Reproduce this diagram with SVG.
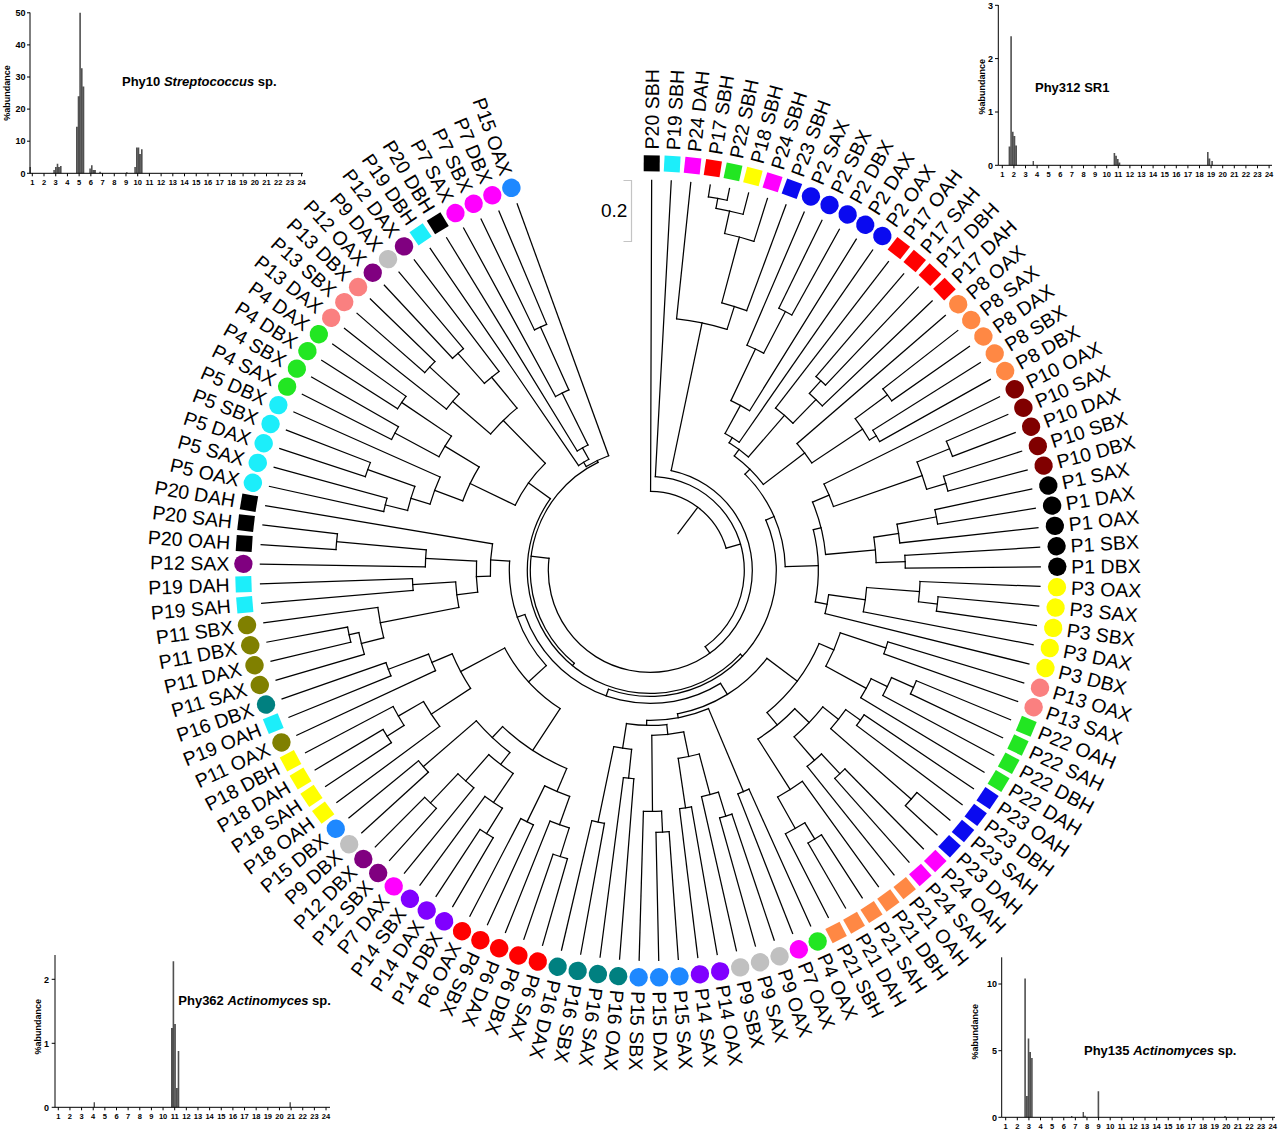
<svg xmlns="http://www.w3.org/2000/svg" width="1280" height="1132" viewBox="0 0 1280 1132">
<style>
text{font-family:"Liberation Sans",Arial,sans-serif;fill:#000}
.lab{font-size:19.5px;dominant-baseline:central}
.l{text-anchor:end}
.tr{fill:none;stroke:#000;stroke-width:1.25;stroke-linecap:square}
.k{fill:#000}.cy{fill:#1ceefa}.mg{fill:#ff00ff}.rd{fill:#ff0000}.gr{fill:#22e622}.ye{fill:#ffff00}.bl{fill:#0a0af0}.or{fill:#ff8844}.dr{fill:#800000}.sa{fill:#fa8080}.ol{fill:#808000}.te{fill:#008080}.gy{fill:#c0c0c0}.vi{fill:#8000ff}.pu{fill:#800080}.db{fill:#1e88ff}
.ax{fill:none;stroke:#000;stroke-width:1}
.bar{fill:#505050}
.xl{font-size:7.5px;font-weight:bold;text-anchor:middle}
.yl{font-size:9px;font-weight:bold;text-anchor:end}
.yt{font-size:9px;font-weight:bold;text-anchor:middle}
.ttl{font-size:13px;font-weight:bold}
</style>
<defs>
<rect id="sq" x="-8" y="-415" width="16" height="16"/>
<circle id="ci" cy="-407" r="9.2"/>
</defs>
<rect width="1280" height="1132" fill="#fff"/>
<g id="connectors" class="tr" transform="translate(650.3 570.4)">
<circle r="378" pathLength="360" stroke-dasharray="2.88 360" transform="rotate(-81.16)"/>
<circle r="368" pathLength="360" stroke-dasharray="4.32 360" transform="rotate(-79.72)"/>
<circle r="345" pathLength="360" stroke-dasharray="5.04 360" transform="rotate(-77.56)"/>
<circle r="277" pathLength="360" stroke-dasharray="5.4 360" transform="rotate(-75.04)"/>
<circle r="253" pathLength="360" stroke-dasharray="11.7 360" transform="rotate(-84.04)"/>
<circle r="292" pathLength="360" stroke-dasharray="2.88 360" transform="rotate(-63.88)"/>
<circle r="245" pathLength="360" stroke-dasharray="4.32 360" transform="rotate(-66.76)"/>
<circle r="188" pathLength="360" stroke-dasharray="6.48 360" transform="rotate(-64.6)"/>
<circle r="156" pathLength="360" stroke-dasharray="6.12 360" transform="rotate(-61.36)"/>
<circle r="255" pathLength="360" stroke-dasharray="2.88 360" transform="rotate(-49.48)"/>
<circle r="238" pathLength="360" stroke-dasharray="4.32 360" transform="rotate(-48.04)"/>
<circle r="205" pathLength="360" stroke-dasharray="6.48 360" transform="rotate(-52.36)"/>
<circle r="150" pathLength="360" stroke-dasharray="9.18 360" transform="rotate(-58.3)"/>
<circle r="295" pathLength="360" stroke-dasharray="2.88 360" transform="rotate(-37.96)"/>
<circle r="263" pathLength="360" stroke-dasharray="2.88 360" transform="rotate(-32.2)"/>
<circle r="255" pathLength="360" stroke-dasharray="5.76 360" transform="rotate(-36.52)"/>
<circle r="194" pathLength="360" stroke-dasharray="7.2 360" transform="rotate(-40.84)"/>
<circle r="142" pathLength="360" stroke-dasharray="16.47 360" transform="rotate(-53.71)"/>
<circle r="323" pathLength="360" stroke-dasharray="2.88 360" transform="rotate(-23.56)"/>
<circle r="308" pathLength="360" stroke-dasharray="2.88 360" transform="rotate(-17.8)"/>
<circle r="288" pathLength="360" stroke-dasharray="5.76 360" transform="rotate(-22.12)"/>
<circle r="194" pathLength="360" stroke-dasharray="7.2 360" transform="rotate(-26.44)"/>
<circle r="291" pathLength="360" stroke-dasharray="2.88 360" transform="rotate(-12.04)"/>
<circle r="251" pathLength="360" stroke-dasharray="4.32 360" transform="rotate(-10.6)"/>
<circle r="255" pathLength="360" stroke-dasharray="2.88 360" transform="rotate(-3.4)"/>
<circle r="226" pathLength="360" stroke-dasharray="6.48 360" transform="rotate(-8.44)"/>
<circle r="176" pathLength="360" stroke-dasharray="17.64 360" transform="rotate(-22.84)"/>
<circle r="289" pathLength="360" stroke-dasharray="2.88 360" transform="rotate(5.24)"/>
<circle r="270" pathLength="360" stroke-dasharray="4.32 360" transform="rotate(2.36)"/>
<circle r="217" pathLength="360" stroke-dasharray="6.48 360" transform="rotate(4.52)"/>
<circle r="180" pathLength="360" stroke-dasharray="6.12 360" transform="rotate(7.76)"/>
<circle r="168" pathLength="360" stroke-dasharray="24.84 360" transform="rotate(-14.02)"/>
<circle r="135" pathLength="360" stroke-dasharray="43.87 360" transform="rotate(-45.47)"/>
<circle r="248" pathLength="360" stroke-dasharray="2.88 360" transform="rotate(16.76)"/>
<circle r="288" pathLength="360" stroke-dasharray="2.88 360" transform="rotate(22.52)"/>
<circle r="264" pathLength="360" stroke-dasharray="4.32 360" transform="rotate(23.96)"/>
<circle r="246" pathLength="360" stroke-dasharray="5.04 360" transform="rotate(26.12)"/>
<circle r="200" pathLength="360" stroke-dasharray="10.44 360" transform="rotate(18.2)"/>
<circle r="258" pathLength="360" stroke-dasharray="2.88 360" transform="rotate(34.04)"/>
<circle r="347" pathLength="360" stroke-dasharray="2.88 360" transform="rotate(39.8)"/>
<circle r="240" pathLength="360" stroke-dasharray="5.76 360" transform="rotate(35.48)"/>
<circle r="278" pathLength="360" stroke-dasharray="2.88 360" transform="rotate(45.56)"/>
<circle r="251" pathLength="360" stroke-dasharray="4.32 360" transform="rotate(47)"/>
<circle r="220" pathLength="360" stroke-dasharray="10.8 360" transform="rotate(38.36)"/>
<circle r="315" pathLength="360" stroke-dasharray="2.88 360" transform="rotate(57.08)"/>
<circle r="296" pathLength="360" stroke-dasharray="4.32 360" transform="rotate(58.52)"/>
<circle r="260" pathLength="360" stroke-dasharray="6.48 360" transform="rotate(54.2)"/>
<circle r="200" pathLength="360" stroke-dasharray="13.68 360" transform="rotate(43.76)"/>
<circle r="184" pathLength="360" stroke-dasharray="27.18 360" transform="rotate(23.42)"/>
<circle r="240" pathLength="360" stroke-dasharray="2.88 360" transform="rotate(65.72)"/>
<circle r="257" pathLength="360" stroke-dasharray="2.88 360" transform="rotate(71.48)"/>
<circle r="232" pathLength="360" stroke-dasharray="4.32 360" transform="rotate(72.92)"/>
<circle r="240" pathLength="360" stroke-dasharray="2.88 360" transform="rotate(80.12)"/>
<circle r="190" pathLength="360" stroke-dasharray="6.48 360" transform="rotate(75.08)"/>
<circle r="262" pathLength="360" stroke-dasharray="2.88 360" transform="rotate(85.88)"/>
<circle r="241" pathLength="360" stroke-dasharray="4.32 360" transform="rotate(87.32)"/>
<circle r="165" pathLength="360" stroke-dasharray="11.16 360" transform="rotate(78.32)"/>
<circle r="209" pathLength="360" stroke-dasharray="2.88 360" transform="rotate(94.52)"/>
<circle r="257" pathLength="360" stroke-dasharray="2.88 360" transform="rotate(100.28)"/>
<circle r="180" pathLength="360" stroke-dasharray="5.76 360" transform="rotate(95.96)"/>
<circle r="155" pathLength="360" stroke-dasharray="14.94 360" transform="rotate(83.9)"/>
<circle r="150" pathLength="360" stroke-dasharray="24.21 360" transform="rotate(67.16)"/>
<circle r="146" pathLength="360" stroke-dasharray="42.26 360" transform="rotate(37.01)"/>
<circle r="300" pathLength="360" stroke-dasharray="2.88 360" transform="rotate(106.04)"/>
<circle r="270" pathLength="360" stroke-dasharray="4.32 360" transform="rotate(107.48)"/>
<circle r="280" pathLength="360" stroke-dasharray="2.88 360" transform="rotate(114.68)"/>
<circle r="240" pathLength="360" stroke-dasharray="6.48 360" transform="rotate(109.64)"/>
<circle r="310" pathLength="360" stroke-dasharray="2.88 360" transform="rotate(120.44)"/>
<circle r="280" pathLength="360" stroke-dasharray="4.32 360" transform="rotate(121.88)"/>
<circle r="320" pathLength="360" stroke-dasharray="2.88 360" transform="rotate(131.96)"/>
<circle r="280" pathLength="360" stroke-dasharray="4.32 360" transform="rotate(129.08)"/>
<circle r="245" pathLength="360" stroke-dasharray="7.2 360" transform="rotate(124.04)"/>
<circle r="300" pathLength="360" stroke-dasharray="2.88 360" transform="rotate(137.72)"/>
<circle r="230" pathLength="360" stroke-dasharray="11.52 360" transform="rotate(127.64)"/>
<circle r="215" pathLength="360" stroke-dasharray="20.52 360" transform="rotate(112.88)"/>
<circle r="311" pathLength="360" stroke-dasharray="2.88 360" transform="rotate(146.36)"/>
<circle r="291" pathLength="360" stroke-dasharray="4.32 360" transform="rotate(147.8)"/>
<circle r="262" pathLength="360" stroke-dasharray="6.48 360" transform="rotate(143.48)"/>
<circle r="280" pathLength="360" stroke-dasharray="2.88 360" transform="rotate(157.88)"/>
<circle r="237" pathLength="360" stroke-dasharray="4.32 360" transform="rotate(155)"/>
<circle r="215" pathLength="360" stroke-dasharray="10.44 360" transform="rotate(146.72)"/>
<circle r="165" pathLength="360" stroke-dasharray="28.8 360" transform="rotate(123.14)"/>
<circle r="308" pathLength="360" stroke-dasharray="2.88 360" transform="rotate(166.52)"/>
<circle r="298" pathLength="360" stroke-dasharray="4.32 360" transform="rotate(163.64)"/>
<circle r="275" pathLength="360" stroke-dasharray="6.48 360" transform="rotate(165.8)"/>
<circle r="238" pathLength="360" stroke-dasharray="2.88 360" transform="rotate(175.16)"/>
<circle r="195" pathLength="360" stroke-dasharray="7.56 360" transform="rotate(169.04)"/>
<circle r="315" pathLength="360" stroke-dasharray="2.88 360" transform="rotate(183.8)"/>
<circle r="225" pathLength="360" stroke-dasharray="4.32 360" transform="rotate(180.92)"/>
<circle r="174" pathLength="360" stroke-dasharray="10.26 360" transform="rotate(172.82)"/>
<circle r="160" pathLength="360" stroke-dasharray="11.61 360" transform="rotate(177.95)"/>
<circle r="141" pathLength="360" stroke-dasharray="46.22 360" transform="rotate(137.54)"/>
<circle r="133" pathLength="360" stroke-dasharray="102.51 360" transform="rotate(58.14)"/>
<circle r="126" pathLength="360" stroke-dasharray="132.94 360" transform="rotate(-23.54)"/>
<circle r="273" pathLength="360" stroke-dasharray="2.88 360" transform="rotate(192.44)"/>
<circle r="300" pathLength="360" stroke-dasharray="2.88 360" transform="rotate(198.2)"/>
<circle r="250" pathLength="360" stroke-dasharray="5.76 360" transform="rotate(193.88)"/>
<circle r="230" pathLength="360" stroke-dasharray="7.2 360" transform="rotate(196.76)"/>
<circle r="290" pathLength="360" stroke-dasharray="2.88 360" transform="rotate(206.84)"/>
<circle r="300" pathLength="360" stroke-dasharray="2.88 360" transform="rotate(212.6)"/>
<circle r="240" pathLength="360" stroke-dasharray="5.76 360" transform="rotate(208.28)"/>
<circle r="200" pathLength="360" stroke-dasharray="10.8 360" transform="rotate(200.36)"/>
<circle r="300" pathLength="360" stroke-dasharray="2.88 360" transform="rotate(221.24)"/>
<circle r="260" pathLength="360" stroke-dasharray="4.32 360" transform="rotate(218.36)"/>
<circle r="290" pathLength="360" stroke-dasharray="2.88 360" transform="rotate(227)"/>
<circle r="250" pathLength="360" stroke-dasharray="4.32 360" transform="rotate(228.44)"/>
<circle r="210" pathLength="360" stroke-dasharray="10.08 360" transform="rotate(220.52)"/>
<circle r="150" pathLength="360" stroke-dasharray="19.8 360" transform="rotate(205.76)"/>
<circle r="123" pathLength="360" stroke-dasharray="172.73 360" transform="rotate(42.93)"/>
<circle r="267" pathLength="360" stroke-dasharray="2.88 360" transform="rotate(244.28)"/>
<circle r="198" pathLength="360" stroke-dasharray="4.32 360" transform="rotate(241.4)"/>
<circle r="140" pathLength="360" stroke-dasharray="5.04 360" transform="rotate(238.52)"/>
<circle r="127" pathLength="360" stroke-dasharray="5.4 360" transform="rotate(235.64)"/>
<circle r="122" pathLength="360" stroke-dasharray="11.7 360" transform="rotate(238.34)"/>
<circle r="120" pathLength="360" stroke-dasharray="114.89 360" transform="rotate(129.3)"/>
<circle r="102" pathLength="360" stroke-dasharray="264.94 360" transform="rotate(-78.19)"/>
<circle r="94" pathLength="360" stroke-dasharray="141.2 360" transform="rotate(-86.92)"/>
<circle r="79" pathLength="360" stroke-dasharray="73.48 360" transform="rotate(-89.8)"/>
<path transform="rotate(10.28)" d="M0-368V-378"/>
<path transform="rotate(12.44)" d="M0-345V-368"/>
<path transform="rotate(14.96)" d="M0-277V-345"/>
<path transform="rotate(17.66)" d="M0-253V-277"/>
<path transform="rotate(11.81)" d="M0-102V-253"/>
<path transform="rotate(27.56)" d="M0-245V-292"/>
<path transform="rotate(25.4)" d="M0-188V-245"/>
<path transform="rotate(28.64)" d="M0-156V-188"/>
<path transform="rotate(31.7)" d="M0-150V-156"/>
<path transform="rotate(41.96)" d="M0-238V-255"/>
<path transform="rotate(44.12)" d="M0-205V-238"/>
<path transform="rotate(40.88)" d="M0-150V-205"/>
<path transform="rotate(36.29)" d="M0-142V-150"/>
<path transform="rotate(53.48)" d="M0-255V-295"/>
<path transform="rotate(59.24)" d="M0-255V-263"/>
<path transform="rotate(56.36)" d="M0-194V-255"/>
<path transform="rotate(52.76)" d="M0-142V-194"/>
<path transform="rotate(44.53)" d="M0-135V-142"/>
<path transform="rotate(67.88)" d="M0-288V-323"/>
<path transform="rotate(73.64)" d="M0-288V-308"/>
<path transform="rotate(70.76)" d="M0-194V-288"/>
<path transform="rotate(67.16)" d="M0-176V-194"/>
<path transform="rotate(79.4)" d="M0-251V-291"/>
<path transform="rotate(81.56)" d="M0-226V-251"/>
<path transform="rotate(88.04)" d="M0-226V-255"/>
<path transform="rotate(84.8)" d="M0-176V-226"/>
<path transform="rotate(75.98)" d="M0-168V-176"/>
<path transform="rotate(96.68)" d="M0-270V-289"/>
<path transform="rotate(94.52)" d="M0-217V-270"/>
<path transform="rotate(97.76)" d="M0-180V-217"/>
<path transform="rotate(100.82)" d="M0-168V-180"/>
<path transform="rotate(88.4)" d="M0-135V-168"/>
<path transform="rotate(66.46)" d="M0-126V-135"/>
<path transform="rotate(108.2)" d="M0-200V-248"/>
<path transform="rotate(113.96)" d="M0-264V-288"/>
<path transform="rotate(116.12)" d="M0-246V-264"/>
<path transform="rotate(118.64)" d="M0-200V-246"/>
<path transform="rotate(113.42)" d="M0-184V-200"/>
<path transform="rotate(125.48)" d="M0-240V-258"/>
<path transform="rotate(131.24)" d="M0-240V-347"/>
<path transform="rotate(128.36)" d="M0-220V-240"/>
<path transform="rotate(137)" d="M0-251V-278"/>
<path transform="rotate(139.16)" d="M0-220V-251"/>
<path transform="rotate(133.76)" d="M0-200V-220"/>
<path transform="rotate(148.52)" d="M0-296V-315"/>
<path transform="rotate(150.68)" d="M0-260V-296"/>
<path transform="rotate(147.44)" d="M0-200V-260"/>
<path transform="rotate(140.6)" d="M0-184V-200"/>
<path transform="rotate(127.01)" d="M0-146V-184"/>
<path transform="rotate(157.16)" d="M0-150V-240"/>
<path transform="rotate(162.92)" d="M0-232V-257"/>
<path transform="rotate(165.08)" d="M0-190V-232"/>
<path transform="rotate(171.56)" d="M0-190V-240"/>
<path transform="rotate(168.32)" d="M0-165V-190"/>
<path transform="rotate(177.32)" d="M0-241V-262"/>
<path transform="rotate(179.48)" d="M0-165V-241"/>
<path transform="rotate(173.9)" d="M0-155V-165"/>
<path transform="rotate(185.96)" d="M0-180V-209"/>
<path transform="rotate(191.72)" d="M0-180V-257"/>
<path transform="rotate(188.84)" d="M0-155V-180"/>
<path transform="rotate(181.37)" d="M0-150V-155"/>
<path transform="rotate(169.27)" d="M0-146V-150"/>
<path transform="rotate(148.14)" d="M0-133V-146"/>
<path transform="rotate(197.48)" d="M0-270V-300"/>
<path transform="rotate(199.64)" d="M0-240V-270"/>
<path transform="rotate(206.12)" d="M0-240V-280"/>
<path transform="rotate(202.88)" d="M0-215V-240"/>
<path transform="rotate(211.88)" d="M0-280V-310"/>
<path transform="rotate(214.04)" d="M0-245V-280"/>
<path transform="rotate(223.4)" d="M0-280V-320"/>
<path transform="rotate(221.24)" d="M0-245V-280"/>
<path transform="rotate(217.64)" d="M0-230V-245"/>
<path transform="rotate(229.16)" d="M0-230V-300"/>
<path transform="rotate(223.4)" d="M0-215V-230"/>
<path transform="rotate(213.14)" d="M0-165V-215"/>
<path transform="rotate(237.8)" d="M0-291V-311"/>
<path transform="rotate(239.96)" d="M0-262V-291"/>
<path transform="rotate(236.72)" d="M0-215V-262"/>
<path transform="rotate(249.32)" d="M0-237V-280"/>
<path transform="rotate(247.16)" d="M0-215V-237"/>
<path transform="rotate(241.94)" d="M0-165V-215"/>
<path transform="rotate(227.54)" d="M0-141V-165"/>
<path transform="rotate(257.96)" d="M0-298V-308"/>
<path transform="rotate(255.8)" d="M0-275V-298"/>
<path transform="rotate(259.04)" d="M0-195V-275"/>
<path transform="rotate(266.6)" d="M0-195V-238"/>
<path transform="rotate(262.82)" d="M0-174V-195"/>
<path transform="rotate(275.24)" d="M0-225V-315"/>
<path transform="rotate(273.08)" d="M0-174V-225"/>
<path transform="rotate(267.95)" d="M0-160V-174"/>
<path transform="rotate(273.76)" d="M0-141V-160"/>
<path transform="rotate(250.65)" d="M0-133V-141"/>
<path transform="rotate(199.4)" d="M0-126V-133"/>
<path transform="rotate(132.93)" d="M0-123V-126"/>
<path transform="rotate(283.88)" d="M0-250V-273"/>
<path transform="rotate(289.64)" d="M0-250V-300"/>
<path transform="rotate(286.76)" d="M0-230V-250"/>
<path transform="rotate(290.36)" d="M0-200V-230"/>
<path transform="rotate(298.28)" d="M0-240V-290"/>
<path transform="rotate(304.04)" d="M0-240V-300"/>
<path transform="rotate(301.16)" d="M0-200V-240"/>
<path transform="rotate(295.76)" d="M0-150V-200"/>
<path transform="rotate(312.68)" d="M0-260V-300"/>
<path transform="rotate(310.52)" d="M0-210V-260"/>
<path transform="rotate(318.44)" d="M0-250V-290"/>
<path transform="rotate(320.6)" d="M0-210V-250"/>
<path transform="rotate(315.56)" d="M0-150V-210"/>
<path transform="rotate(305.66)" d="M0-123V-150"/>
<path transform="rotate(219.3)" d="M0-120V-123"/>
<path transform="rotate(335.72)" d="M0-198V-267"/>
<path transform="rotate(333.56)" d="M0-140V-198"/>
<path transform="rotate(331.04)" d="M0-127V-140"/>
<path transform="rotate(328.34)" d="M0-122V-127"/>
<path transform="rotate(334.19)" d="M0-120V-122"/>
<path transform="rotate(276.75)" d="M0-102V-120"/>
<path transform="rotate(144.28)" d="M0-94V-102"/>
<path transform="rotate(73.68)" d="M0-79V-94"/>
<path transform="rotate(36.94)" d="M0-46V-79"/>
<path transform="rotate(0.2)" d="M0-79V-390"/>
<path transform="rotate(3.08)" d="M0-94V-390"/>
<path transform="rotate(5.96)" d="M0-253V-390"/>
<path transform="rotate(8.84)" d="M0-378V-390"/>
<path transform="rotate(11.72)" d="M0-378V-390"/>
<path transform="rotate(14.6)" d="M0-368V-390"/>
<path transform="rotate(17.48)" d="M0-345V-390"/>
<path transform="rotate(20.36)" d="M0-277V-390"/>
<path transform="rotate(23.24)" d="M0-245V-390"/>
<path transform="rotate(26.12)" d="M0-292V-390"/>
<path transform="rotate(29)" d="M0-292V-390"/>
<path transform="rotate(31.88)" d="M0-188V-390"/>
<path transform="rotate(34.76)" d="M0-156V-390"/>
<path transform="rotate(37.64)" d="M0-205V-390"/>
<path transform="rotate(40.52)" d="M0-255V-390"/>
<path transform="rotate(43.4)" d="M0-255V-390"/>
<path transform="rotate(46.28)" d="M0-238V-390"/>
<path transform="rotate(49.16)" d="M0-194V-390"/>
<path transform="rotate(52.04)" d="M0-295V-390"/>
<path transform="rotate(54.92)" d="M0-295V-390"/>
<path transform="rotate(57.8)" d="M0-263V-390"/>
<path transform="rotate(60.68)" d="M0-263V-390"/>
<path transform="rotate(63.56)" d="M0-194V-390"/>
<path transform="rotate(66.44)" d="M0-323V-390"/>
<path transform="rotate(69.32)" d="M0-323V-390"/>
<path transform="rotate(72.2)" d="M0-308V-390"/>
<path transform="rotate(75.08)" d="M0-308V-390"/>
<path transform="rotate(77.96)" d="M0-291V-390"/>
<path transform="rotate(80.84)" d="M0-291V-390"/>
<path transform="rotate(83.72)" d="M0-251V-390"/>
<path transform="rotate(86.6)" d="M0-255V-390"/>
<path transform="rotate(89.48)" d="M0-255V-390"/>
<path transform="rotate(92.36)" d="M0-270V-390"/>
<path transform="rotate(95.24)" d="M0-289V-390"/>
<path transform="rotate(98.12)" d="M0-289V-390"/>
<path transform="rotate(101)" d="M0-217V-390"/>
<path transform="rotate(103.88)" d="M0-180V-390"/>
<path transform="rotate(106.76)" d="M0-248V-390"/>
<path transform="rotate(109.64)" d="M0-248V-390"/>
<path transform="rotate(112.52)" d="M0-288V-390"/>
<path transform="rotate(115.4)" d="M0-288V-390"/>
<path transform="rotate(118.28)" d="M0-264V-390"/>
<path transform="rotate(121.16)" d="M0-246V-390"/>
<path transform="rotate(124.04)" d="M0-258V-390"/>
<path transform="rotate(126.92)" d="M0-258V-390"/>
<path transform="rotate(129.8)" d="M0-347V-390"/>
<path transform="rotate(132.68)" d="M0-347V-390"/>
<path transform="rotate(135.56)" d="M0-278V-390"/>
<path transform="rotate(138.44)" d="M0-278V-390"/>
<path transform="rotate(141.32)" d="M0-251V-390"/>
<path transform="rotate(144.2)" d="M0-260V-390"/>
<path transform="rotate(147.08)" d="M0-315V-390"/>
<path transform="rotate(149.96)" d="M0-315V-390"/>
<path transform="rotate(152.84)" d="M0-296V-390"/>
<path transform="rotate(155.72)" d="M0-240V-390"/>
<path transform="rotate(158.6)" d="M0-240V-390"/>
<path transform="rotate(161.48)" d="M0-257V-390"/>
<path transform="rotate(164.36)" d="M0-257V-390"/>
<path transform="rotate(167.24)" d="M0-232V-390"/>
<path transform="rotate(170.12)" d="M0-240V-390"/>
<path transform="rotate(173)" d="M0-240V-390"/>
<path transform="rotate(175.88)" d="M0-262V-390"/>
<path transform="rotate(178.76)" d="M0-262V-390"/>
<path transform="rotate(181.64)" d="M0-241V-390"/>
<path transform="rotate(184.52)" d="M0-209V-390"/>
<path transform="rotate(187.4)" d="M0-209V-390"/>
<path transform="rotate(190.28)" d="M0-257V-390"/>
<path transform="rotate(193.16)" d="M0-257V-390"/>
<path transform="rotate(196.04)" d="M0-300V-390"/>
<path transform="rotate(198.92)" d="M0-300V-390"/>
<path transform="rotate(201.8)" d="M0-270V-390"/>
<path transform="rotate(204.68)" d="M0-280V-390"/>
<path transform="rotate(207.56)" d="M0-280V-390"/>
<path transform="rotate(210.44)" d="M0-310V-390"/>
<path transform="rotate(213.32)" d="M0-310V-390"/>
<path transform="rotate(216.2)" d="M0-280V-390"/>
<path transform="rotate(219.08)" d="M0-280V-390"/>
<path transform="rotate(221.96)" d="M0-320V-390"/>
<path transform="rotate(224.84)" d="M0-320V-390"/>
<path transform="rotate(227.72)" d="M0-300V-390"/>
<path transform="rotate(230.6)" d="M0-300V-390"/>
<path transform="rotate(233.48)" d="M0-262V-390"/>
<path transform="rotate(236.36)" d="M0-311V-390"/>
<path transform="rotate(239.24)" d="M0-311V-390"/>
<path transform="rotate(242.12)" d="M0-291V-390"/>
<path transform="rotate(245)" d="M0-237V-390"/>
<path transform="rotate(247.88)" d="M0-280V-390"/>
<path transform="rotate(250.76)" d="M0-280V-390"/>
<path transform="rotate(253.64)" d="M0-298V-390"/>
<path transform="rotate(256.52)" d="M0-308V-390"/>
<path transform="rotate(259.4)" d="M0-308V-390"/>
<path transform="rotate(262.28)" d="M0-275V-390"/>
<path transform="rotate(265.16)" d="M0-238V-390"/>
<path transform="rotate(268.04)" d="M0-238V-390"/>
<path transform="rotate(270.92)" d="M0-225V-390"/>
<path transform="rotate(273.8)" d="M0-315V-390"/>
<path transform="rotate(276.68)" d="M0-315V-390"/>
<path transform="rotate(279.56)" d="M0-160V-390"/>
<path transform="rotate(282.44)" d="M0-273V-390"/>
<path transform="rotate(285.32)" d="M0-273V-390"/>
<path transform="rotate(288.2)" d="M0-300V-390"/>
<path transform="rotate(291.08)" d="M0-300V-390"/>
<path transform="rotate(293.96)" d="M0-230V-390"/>
<path transform="rotate(296.84)" d="M0-290V-390"/>
<path transform="rotate(299.72)" d="M0-290V-390"/>
<path transform="rotate(302.6)" d="M0-300V-390"/>
<path transform="rotate(305.48)" d="M0-300V-390"/>
<path transform="rotate(308.36)" d="M0-260V-390"/>
<path transform="rotate(311.24)" d="M0-300V-390"/>
<path transform="rotate(314.12)" d="M0-300V-390"/>
<path transform="rotate(317)" d="M0-290V-390"/>
<path transform="rotate(319.88)" d="M0-290V-390"/>
<path transform="rotate(322.76)" d="M0-250V-390"/>
<path transform="rotate(325.64)" d="M0-127V-390"/>
<path transform="rotate(328.52)" d="M0-140V-390"/>
<path transform="rotate(331.4)" d="M0-198V-390"/>
<path transform="rotate(334.28)" d="M0-267V-390"/>
<path transform="rotate(337.16)" d="M0-267V-390"/>
<path transform="rotate(340.04)" d="M0-122V-390"/>
</g>
<g id="leaves" transform="translate(650.3 570.4)">
<g id="leaf-P20-SBH" transform="rotate(0.2)"><use href="#sq" class="k"/><text class="lab" transform="rotate(-90)" x="421">P20 SBH</text></g>
<g id="leaf-P19-SBH" transform="rotate(3.08)"><use href="#sq" class="cy"/><text class="lab" transform="rotate(-90)" x="421">P19 SBH</text></g>
<g id="leaf-P24-DAH" transform="rotate(5.96)"><use href="#sq" class="mg"/><text class="lab" transform="rotate(-90)" x="421">P24 DAH</text></g>
<g id="leaf-P17-SBH" transform="rotate(8.84)"><use href="#sq" class="rd"/><text class="lab" transform="rotate(-90)" x="421">P17 SBH</text></g>
<g id="leaf-P22-SBH" transform="rotate(11.72)"><use href="#sq" class="gr"/><text class="lab" transform="rotate(-90)" x="421">P22 SBH</text></g>
<g id="leaf-P18-SBH" transform="rotate(14.6)"><use href="#sq" class="ye"/><text class="lab" transform="rotate(-90)" x="421">P18 SBH</text></g>
<g id="leaf-P24-SBH" transform="rotate(17.48)"><use href="#sq" class="mg"/><text class="lab" transform="rotate(-90)" x="421">P24 SBH</text></g>
<g id="leaf-P23-SBH" transform="rotate(20.36)"><use href="#sq" class="bl"/><text class="lab" transform="rotate(-90)" x="421">P23 SBH</text></g>
<g id="leaf-P2-SAX" transform="rotate(23.24)"><use href="#ci" class="bl"/><text class="lab" transform="rotate(-90)" x="421">P2 SAX</text></g>
<g id="leaf-P2-SBX" transform="rotate(26.12)"><use href="#ci" class="bl"/><text class="lab" transform="rotate(-90)" x="421">P2 SBX</text></g>
<g id="leaf-P2-DBX" transform="rotate(29)"><use href="#ci" class="bl"/><text class="lab" transform="rotate(-90)" x="421">P2 DBX</text></g>
<g id="leaf-P2-DAX" transform="rotate(31.88)"><use href="#ci" class="bl"/><text class="lab" transform="rotate(-90)" x="421">P2 DAX</text></g>
<g id="leaf-P2-OAX" transform="rotate(34.76)"><use href="#ci" class="bl"/><text class="lab" transform="rotate(-90)" x="421">P2 OAX</text></g>
<g id="leaf-P17-OAH" transform="rotate(37.64)"><use href="#sq" class="rd"/><text class="lab" transform="rotate(-90)" x="421">P17 OAH</text></g>
<g id="leaf-P17-SAH" transform="rotate(40.52)"><use href="#sq" class="rd"/><text class="lab" transform="rotate(-90)" x="421">P17 SAH</text></g>
<g id="leaf-P17-DBH" transform="rotate(43.4)"><use href="#sq" class="rd"/><text class="lab" transform="rotate(-90)" x="421">P17 DBH</text></g>
<g id="leaf-P17-DAH" transform="rotate(46.28)"><use href="#sq" class="rd"/><text class="lab" transform="rotate(-90)" x="421">P17 DAH</text></g>
<g id="leaf-P8-OAX" transform="rotate(49.16)"><use href="#ci" class="or"/><text class="lab" transform="rotate(-90)" x="421">P8 OAX</text></g>
<g id="leaf-P8-SAX" transform="rotate(52.04)"><use href="#ci" class="or"/><text class="lab" transform="rotate(-90)" x="421">P8 SAX</text></g>
<g id="leaf-P8-DAX" transform="rotate(54.92)"><use href="#ci" class="or"/><text class="lab" transform="rotate(-90)" x="421">P8 DAX</text></g>
<g id="leaf-P8-SBX" transform="rotate(57.8)"><use href="#ci" class="or"/><text class="lab" transform="rotate(-90)" x="421">P8 SBX</text></g>
<g id="leaf-P8-DBX" transform="rotate(60.68)"><use href="#ci" class="or"/><text class="lab" transform="rotate(-90)" x="421">P8 DBX</text></g>
<g id="leaf-P10-OAX" transform="rotate(63.56)"><use href="#ci" class="dr"/><text class="lab" transform="rotate(-90)" x="421">P10 OAX</text></g>
<g id="leaf-P10-SAX" transform="rotate(66.44)"><use href="#ci" class="dr"/><text class="lab" transform="rotate(-90)" x="421">P10 SAX</text></g>
<g id="leaf-P10-DAX" transform="rotate(69.32)"><use href="#ci" class="dr"/><text class="lab" transform="rotate(-90)" x="421">P10 DAX</text></g>
<g id="leaf-P10-SBX" transform="rotate(72.2)"><use href="#ci" class="dr"/><text class="lab" transform="rotate(-90)" x="421">P10 SBX</text></g>
<g id="leaf-P10-DBX" transform="rotate(75.08)"><use href="#ci" class="dr"/><text class="lab" transform="rotate(-90)" x="421">P10 DBX</text></g>
<g id="leaf-P1-SAX" transform="rotate(77.96)"><use href="#ci" class="k"/><text class="lab" transform="rotate(-90)" x="421">P1 SAX</text></g>
<g id="leaf-P1-DAX" transform="rotate(80.84)"><use href="#ci" class="k"/><text class="lab" transform="rotate(-90)" x="421">P1 DAX</text></g>
<g id="leaf-P1-OAX" transform="rotate(83.72)"><use href="#ci" class="k"/><text class="lab" transform="rotate(-90)" x="421">P1 OAX</text></g>
<g id="leaf-P1-SBX" transform="rotate(86.6)"><use href="#ci" class="k"/><text class="lab" transform="rotate(-90)" x="421">P1 SBX</text></g>
<g id="leaf-P1-DBX" transform="rotate(89.48)"><use href="#ci" class="k"/><text class="lab" transform="rotate(-90)" x="421">P1 DBX</text></g>
<g id="leaf-P3-OAX" transform="rotate(92.36)"><use href="#ci" class="ye"/><text class="lab" transform="rotate(-90)" x="421">P3 OAX</text></g>
<g id="leaf-P3-SAX" transform="rotate(95.24)"><use href="#ci" class="ye"/><text class="lab" transform="rotate(-90)" x="421">P3 SAX</text></g>
<g id="leaf-P3-SBX" transform="rotate(98.12)"><use href="#ci" class="ye"/><text class="lab" transform="rotate(-90)" x="421">P3 SBX</text></g>
<g id="leaf-P3-DAX" transform="rotate(101)"><use href="#ci" class="ye"/><text class="lab" transform="rotate(-90)" x="421">P3 DAX</text></g>
<g id="leaf-P3-DBX" transform="rotate(103.88)"><use href="#ci" class="ye"/><text class="lab" transform="rotate(-90)" x="421">P3 DBX</text></g>
<g id="leaf-P13-OAX" transform="rotate(106.76)"><use href="#ci" class="sa"/><text class="lab" transform="rotate(-90)" x="421">P13 OAX</text></g>
<g id="leaf-P13-SAX" transform="rotate(109.64)"><use href="#ci" class="sa"/><text class="lab" transform="rotate(-90)" x="421">P13 SAX</text></g>
<g id="leaf-P22-OAH" transform="rotate(112.52)"><use href="#sq" class="gr"/><text class="lab" transform="rotate(-90)" x="421">P22 OAH</text></g>
<g id="leaf-P22-SAH" transform="rotate(115.4)"><use href="#sq" class="gr"/><text class="lab" transform="rotate(-90)" x="421">P22 SAH</text></g>
<g id="leaf-P22-DBH" transform="rotate(118.28)"><use href="#sq" class="gr"/><text class="lab" transform="rotate(-90)" x="421">P22 DBH</text></g>
<g id="leaf-P22-DAH" transform="rotate(121.16)"><use href="#sq" class="gr"/><text class="lab" transform="rotate(-90)" x="421">P22 DAH</text></g>
<g id="leaf-P23-OAH" transform="rotate(124.04)"><use href="#sq" class="bl"/><text class="lab" transform="rotate(-90)" x="421">P23 OAH</text></g>
<g id="leaf-P23-DBH" transform="rotate(126.92)"><use href="#sq" class="bl"/><text class="lab" transform="rotate(-90)" x="421">P23 DBH</text></g>
<g id="leaf-P23-SAH" transform="rotate(129.8)"><use href="#sq" class="bl"/><text class="lab" transform="rotate(-90)" x="421">P23 SAH</text></g>
<g id="leaf-P23-DAH" transform="rotate(132.68)"><use href="#sq" class="bl"/><text class="lab" transform="rotate(-90)" x="421">P23 DAH</text></g>
<g id="leaf-P24-OAH" transform="rotate(135.56)"><use href="#sq" class="mg"/><text class="lab" transform="rotate(-90)" x="421">P24 OAH</text></g>
<g id="leaf-P24-SAH" transform="rotate(138.44)"><use href="#sq" class="mg"/><text class="lab" transform="rotate(-90)" x="421">P24 SAH</text></g>
<g id="leaf-P21-OAH" transform="rotate(141.32)"><use href="#sq" class="or"/><text class="lab" transform="rotate(-90)" x="421">P21 OAH</text></g>
<g id="leaf-P21-DBH" transform="rotate(144.2)"><use href="#sq" class="or"/><text class="lab" transform="rotate(-90)" x="421">P21 DBH</text></g>
<g id="leaf-P21-SAH" transform="rotate(147.08)"><use href="#sq" class="or"/><text class="lab" transform="rotate(-90)" x="421">P21 SAH</text></g>
<g id="leaf-P21-DAH" transform="rotate(149.96)"><use href="#sq" class="or"/><text class="lab" transform="rotate(-90)" x="421">P21 DAH</text></g>
<g id="leaf-P21-SBH" transform="rotate(152.84)"><use href="#sq" class="or"/><text class="lab" transform="rotate(-90)" x="421">P21 SBH</text></g>
<g id="leaf-P4-OAX" transform="rotate(155.72)"><use href="#ci" class="gr"/><text class="lab" transform="rotate(-90)" x="421">P4 OAX</text></g>
<g id="leaf-P7-OAX" transform="rotate(158.6)"><use href="#ci" class="mg"/><text class="lab" transform="rotate(-90)" x="421">P7 OAX</text></g>
<g id="leaf-P9-OAX" transform="rotate(161.48)"><use href="#ci" class="gy"/><text class="lab" transform="rotate(-90)" x="421">P9 OAX</text></g>
<g id="leaf-P9-SAX" transform="rotate(164.36)"><use href="#ci" class="gy"/><text class="lab" transform="rotate(-90)" x="421">P9 SAX</text></g>
<g id="leaf-P9-SBX" transform="rotate(167.24)"><use href="#ci" class="gy"/><text class="lab" transform="rotate(-90)" x="421">P9 SBX</text></g>
<g id="leaf-P14-OAX" transform="rotate(170.12)"><use href="#ci" class="vi"/><text class="lab" transform="rotate(-90)" x="421">P14 OAX</text></g>
<g id="leaf-P14-SAX" transform="rotate(173)"><use href="#ci" class="vi"/><text class="lab" transform="rotate(-90)" x="421">P14 SAX</text></g>
<g id="leaf-P15-SAX" transform="rotate(175.88)"><use href="#ci" class="db"/><text class="lab" transform="rotate(-90)" x="421">P15 SAX</text></g>
<g id="leaf-P15-DAX" transform="rotate(178.76)"><use href="#ci" class="db"/><text class="lab" transform="rotate(-90)" x="421">P15 DAX</text></g>
<g id="leaf-P15-SBX" transform="rotate(181.64)"><use href="#ci" class="db"/><text class="lab" transform="rotate(-90)" x="421">P15 SBX</text></g>
<g id="leaf-P16-OAX" transform="rotate(184.52)"><use href="#ci" class="te"/><text class="lab" transform="rotate(-90)" x="421">P16 OAX</text></g>
<g id="leaf-P16-SAX" transform="rotate(187.4)"><use href="#ci" class="te"/><text class="lab" transform="rotate(-90)" x="421">P16 SAX</text></g>
<g id="leaf-P16-SBX" transform="rotate(190.28)"><use href="#ci" class="te"/><text class="lab" transform="rotate(-90)" x="421">P16 SBX</text></g>
<g id="leaf-P16-DAX" transform="rotate(193.16)"><use href="#ci" class="te"/><text class="lab" transform="rotate(-90)" x="421">P16 DAX</text></g>
<g id="leaf-P6-SAX" transform="rotate(196.04)"><use href="#ci" class="rd"/><text class="lab" transform="rotate(-90)" x="421">P6 SAX</text></g>
<g id="leaf-P6-DBX" transform="rotate(198.92)"><use href="#ci" class="rd"/><text class="lab" transform="rotate(-90)" x="421">P6 DBX</text></g>
<g id="leaf-P6-DAX" transform="rotate(201.8)"><use href="#ci" class="rd"/><text class="lab" transform="rotate(-90)" x="421">P6 DAX</text></g>
<g id="leaf-P6-SBX" transform="rotate(204.68)"><use href="#ci" class="rd"/><text class="lab" transform="rotate(-90)" x="421">P6 SBX</text></g>
<g id="leaf-P6-OAX" transform="rotate(207.56)"><use href="#ci" class="rd"/><text class="lab l" transform="rotate(90)" x="-421">P6 OAX</text></g>
<g id="leaf-P14-DBX" transform="rotate(210.44)"><use href="#ci" class="vi"/><text class="lab l" transform="rotate(90)" x="-421">P14 DBX</text></g>
<g id="leaf-P14-DAX" transform="rotate(213.32)"><use href="#ci" class="vi"/><text class="lab l" transform="rotate(90)" x="-421">P14 DAX</text></g>
<g id="leaf-P14-SBX" transform="rotate(216.2)"><use href="#ci" class="vi"/><text class="lab l" transform="rotate(90)" x="-421">P14 SBX</text></g>
<g id="leaf-P7-DAX" transform="rotate(219.08)"><use href="#ci" class="mg"/><text class="lab l" transform="rotate(90)" x="-421">P7 DAX</text></g>
<g id="leaf-P12-SBX" transform="rotate(221.96)"><use href="#ci" class="pu"/><text class="lab l" transform="rotate(90)" x="-421">P12 SBX</text></g>
<g id="leaf-P12-DBX" transform="rotate(224.84)"><use href="#ci" class="pu"/><text class="lab l" transform="rotate(90)" x="-421">P12 DBX</text></g>
<g id="leaf-P9-DBX" transform="rotate(227.72)"><use href="#ci" class="gy"/><text class="lab l" transform="rotate(90)" x="-421">P9 DBX</text></g>
<g id="leaf-P15-DBX" transform="rotate(230.6)"><use href="#ci" class="db"/><text class="lab l" transform="rotate(90)" x="-421">P15 DBX</text></g>
<g id="leaf-P18-OAH" transform="rotate(233.48)"><use href="#sq" class="ye"/><text class="lab l" transform="rotate(90)" x="-421">P18 OAH</text></g>
<g id="leaf-P18-SAH" transform="rotate(236.36)"><use href="#sq" class="ye"/><text class="lab l" transform="rotate(90)" x="-421">P18 SAH</text></g>
<g id="leaf-P18-DAH" transform="rotate(239.24)"><use href="#sq" class="ye"/><text class="lab l" transform="rotate(90)" x="-421">P18 DAH</text></g>
<g id="leaf-P18-DBH" transform="rotate(242.12)"><use href="#sq" class="ye"/><text class="lab l" transform="rotate(90)" x="-421">P18 DBH</text></g>
<g id="leaf-P11-OAX" transform="rotate(245)"><use href="#ci" class="ol"/><text class="lab l" transform="rotate(90)" x="-421">P11 OAX</text></g>
<g id="leaf-P19-OAH" transform="rotate(247.88)"><use href="#sq" class="cy"/><text class="lab l" transform="rotate(90)" x="-421">P19 OAH</text></g>
<g id="leaf-P16-DBX" transform="rotate(250.76)"><use href="#ci" class="te"/><text class="lab l" transform="rotate(90)" x="-421">P16 DBX</text></g>
<g id="leaf-P11-SAX" transform="rotate(253.64)"><use href="#ci" class="ol"/><text class="lab l" transform="rotate(90)" x="-421">P11 SAX</text></g>
<g id="leaf-P11-DAX" transform="rotate(256.52)"><use href="#ci" class="ol"/><text class="lab l" transform="rotate(90)" x="-421">P11 DAX</text></g>
<g id="leaf-P11-DBX" transform="rotate(259.4)"><use href="#ci" class="ol"/><text class="lab l" transform="rotate(90)" x="-421">P11 DBX</text></g>
<g id="leaf-P11-SBX" transform="rotate(262.28)"><use href="#ci" class="ol"/><text class="lab l" transform="rotate(90)" x="-421">P11 SBX</text></g>
<g id="leaf-P19-SAH" transform="rotate(265.16)"><use href="#sq" class="cy"/><text class="lab l" transform="rotate(90)" x="-421">P19 SAH</text></g>
<g id="leaf-P19-DAH" transform="rotate(268.04)"><use href="#sq" class="cy"/><text class="lab l" transform="rotate(90)" x="-421">P19 DAH</text></g>
<g id="leaf-P12-SAX" transform="rotate(270.92)"><use href="#ci" class="pu"/><text class="lab l" transform="rotate(90)" x="-421">P12 SAX</text></g>
<g id="leaf-P20-OAH" transform="rotate(273.8)"><use href="#sq" class="k"/><text class="lab l" transform="rotate(90)" x="-421">P20 OAH</text></g>
<g id="leaf-P20-SAH" transform="rotate(276.68)"><use href="#sq" class="k"/><text class="lab l" transform="rotate(90)" x="-421">P20 SAH</text></g>
<g id="leaf-P20-DAH" transform="rotate(279.56)"><use href="#sq" class="k"/><text class="lab l" transform="rotate(90)" x="-421">P20 DAH</text></g>
<g id="leaf-P5-OAX" transform="rotate(282.44)"><use href="#ci" class="cy"/><text class="lab l" transform="rotate(90)" x="-421">P5 OAX</text></g>
<g id="leaf-P5-SAX" transform="rotate(285.32)"><use href="#ci" class="cy"/><text class="lab l" transform="rotate(90)" x="-421">P5 SAX</text></g>
<g id="leaf-P5-DAX" transform="rotate(288.2)"><use href="#ci" class="cy"/><text class="lab l" transform="rotate(90)" x="-421">P5 DAX</text></g>
<g id="leaf-P5-SBX" transform="rotate(291.08)"><use href="#ci" class="cy"/><text class="lab l" transform="rotate(90)" x="-421">P5 SBX</text></g>
<g id="leaf-P5-DBX" transform="rotate(293.96)"><use href="#ci" class="cy"/><text class="lab l" transform="rotate(90)" x="-421">P5 DBX</text></g>
<g id="leaf-P4-SAX" transform="rotate(296.84)"><use href="#ci" class="gr"/><text class="lab l" transform="rotate(90)" x="-421">P4 SAX</text></g>
<g id="leaf-P4-SBX" transform="rotate(299.72)"><use href="#ci" class="gr"/><text class="lab l" transform="rotate(90)" x="-421">P4 SBX</text></g>
<g id="leaf-P4-DBX" transform="rotate(302.6)"><use href="#ci" class="gr"/><text class="lab l" transform="rotate(90)" x="-421">P4 DBX</text></g>
<g id="leaf-P4-DAX" transform="rotate(305.48)"><use href="#ci" class="gr"/><text class="lab l" transform="rotate(90)" x="-421">P4 DAX</text></g>
<g id="leaf-P13-DAX" transform="rotate(308.36)"><use href="#ci" class="sa"/><text class="lab l" transform="rotate(90)" x="-421">P13 DAX</text></g>
<g id="leaf-P13-SBX" transform="rotate(311.24)"><use href="#ci" class="sa"/><text class="lab l" transform="rotate(90)" x="-421">P13 SBX</text></g>
<g id="leaf-P13-DBX" transform="rotate(314.12)"><use href="#ci" class="sa"/><text class="lab l" transform="rotate(90)" x="-421">P13 DBX</text></g>
<g id="leaf-P12-OAX" transform="rotate(317)"><use href="#ci" class="pu"/><text class="lab l" transform="rotate(90)" x="-421">P12 OAX</text></g>
<g id="leaf-P9-DAX" transform="rotate(319.88)"><use href="#ci" class="gy"/><text class="lab l" transform="rotate(90)" x="-421">P9 DAX</text></g>
<g id="leaf-P12-DAX" transform="rotate(322.76)"><use href="#ci" class="pu"/><text class="lab l" transform="rotate(90)" x="-421">P12 DAX</text></g>
<g id="leaf-P19-DBH" transform="rotate(325.64)"><use href="#sq" class="cy"/><text class="lab l" transform="rotate(90)" x="-421">P19 DBH</text></g>
<g id="leaf-P20-DBH" transform="rotate(328.52)"><use href="#sq" class="k"/><text class="lab l" transform="rotate(90)" x="-421">P20 DBH</text></g>
<g id="leaf-P7-SAX" transform="rotate(331.4)"><use href="#ci" class="mg"/><text class="lab l" transform="rotate(90)" x="-421">P7 SAX</text></g>
<g id="leaf-P7-SBX" transform="rotate(334.28)"><use href="#ci" class="mg"/><text class="lab l" transform="rotate(90)" x="-421">P7 SBX</text></g>
<g id="leaf-P7-DBX" transform="rotate(337.16)"><use href="#ci" class="mg"/><text class="lab l" transform="rotate(90)" x="-421">P7 DBX</text></g>
<g id="leaf-P15-OAX" transform="rotate(340.04)"><use href="#ci" class="db"/><text class="lab l" transform="rotate(90)" x="-421">P15 OAX</text></g>
</g>
<g id="scale-bar">
<path d="M623.5 180.5H631.5V241.5H623.5" fill="none" stroke="#c4c4c4" stroke-width="1.2"/>
<text x="601" y="217" font-size="19" fill="#222">0.2</text>
</g>
<g id="chart-phy10">
<path class="bar" d="M29.5 173.3v-6.4h1.4v6.4zM53.3 173.3v-3.2h1.6v3.2zM55 173.3v-6.4h1.6v6.4zM56.7 173.3v-9.6h1.6v9.6zM58.3 173.3v-6.4h1.6v6.4zM60 173.3v-7.4h1.6v7.4zM76 173.3v-46.5h1.6v46.5zM77.7 173.3v-77h1.6v77zM79.3 173.3v-160.5h1.6v160.5zM81 173.3v-105h1.6v105zM82.7 173.3v-86.7h1.6v86.7zM89.3 173.3v-4.8h1.6v4.8zM91 173.3v-8h1.6v8zM92.7 173.3v-3.2h1.6v3.2zM94.3 173.3v-3.2h1.6v3.2zM99.3 173.3v-1.6h1.6v1.6zM126 173.3v-1h1.6v1zM134.3 173.3v-6.4h1.6v6.4zM136 173.3v-25.7h1.6v25.7zM137.7 173.3v-25.7h1.6v25.7zM139.3 173.3v-19.3h1.6v19.3zM141 173.3v-24.1h1.6v24.1z"/>
<path class="ax" d="M30 12.5V173.3H303M27 12.8H30M27 44.9H30M27 77H30M27 109.1H30M27 141.2H30M27 173.3H30M32.3 173.3v3m11.71-3v3m11.71-3v3m11.71-3v3m11.71-3v3m11.71-3v3m11.71-3v3m11.71-3v3m11.71-3v3m11.71-3v3m11.71-3v3m11.71-3v3m11.71-3v3m11.71-3v3m11.71-3v3m11.71-3v3m11.71-3v3m11.71-3v3m11.71-3v3m11.71-3v3m11.71-3v3m11.71-3v3m11.71-3v3m11.71-3v3"/>
<text class="yl" x="25.5" y="16">50</text><text class="yl" x="25.5" y="48.1">40</text><text class="yl" x="25.5" y="80.2">30</text><text class="yl" x="25.5" y="112.3">20</text><text class="yl" x="25.5" y="144.4">10</text><text class="yl" x="25.5" y="176.5">0</text>
<text class="yt" transform="translate(10 93) rotate(-90)">%abundance</text>
<text class="xl" y="185"><tspan x="32.3">1</tspan><tspan x="44">2</tspan><tspan x="55.7">3</tspan><tspan x="67.4">4</tspan><tspan x="79.1">5</tspan><tspan x="90.9">6</tspan><tspan x="102.6">7</tspan><tspan x="114.3">8</tspan><tspan x="126">9</tspan><tspan x="137.7">10</tspan><tspan x="149.4">11</tspan><tspan x="161.1">12</tspan><tspan x="172.8">13</tspan><tspan x="184.5">14</tspan><tspan x="196.2">15</tspan><tspan x="207.9">16</tspan><tspan x="219.7">17</tspan><tspan x="231.4">18</tspan><tspan x="243.1">19</tspan><tspan x="254.8">20</tspan><tspan x="266.5">21</tspan><tspan x="278.2">22</tspan><tspan x="289.9">23</tspan><tspan x="301.6">24</tspan></text>
<text class="ttl" x="122" y="86">Phy10 <tspan font-style="italic">Streptococcus</tspan> sp.</text>
</g>
<g id="chart-phy312">
<path class="bar" d="M1008.6 165.3v-18.7h1.6v18.7zM1010.3 165.3v-129h1.6v129zM1012 165.3v-33.6h1.6v33.6zM1013.7 165.3v-29.3h1.6v29.3zM1015.4 165.3v-19.7h1.6v19.7zM1032.6 165.3v-4.3h1.4v4.3zM1113.6 165.3v-12.3h1.6v12.3zM1115.3 165.3v-9.6h1.6v9.6zM1117 165.3v-6.4h1.6v6.4zM1118.7 165.3v-2.7h1.6v2.7zM1207 165.3v-13.3h1.6v13.3zM1208.7 165.3v-6.9h1.6v6.9zM1211.3 165.3v-4.3h1.6v4.3z"/>
<path class="ax" d="M998.3 5V165.3H1272M995 5.3h3.3M995 58.6h3.3M995 112h3.3M995 165.3h3.3M1002.3 165.3v3m11.6-3v3m11.6-3v3m11.6-3v3m11.6-3v3m11.6-3v3m11.6-3v3m11.6-3v3m11.6-3v3m11.6-3v3m11.6-3v3m11.6-3v3m11.6-3v3m11.6-3v3m11.6-3v3m11.6-3v3m11.6-3v3m11.6-3v3m11.6-3v3m11.6-3v3m11.6-3v3m11.6-3v3m11.6-3v3m11.6-3v3"/>
<text class="yl" x="993" y="8.5">3</text><text class="yl" x="993" y="61.8">2</text><text class="yl" x="993" y="115.2">1</text><text class="yl" x="993" y="168.5">0</text>
<text class="yt" transform="translate(984.5 86.7) rotate(-90)">%abundance</text>
<text class="xl" y="177"><tspan x="1002.3">1</tspan><tspan x="1013.9">2</tspan><tspan x="1025.5">3</tspan><tspan x="1037.1">4</tspan><tspan x="1048.7">5</tspan><tspan x="1060.3">6</tspan><tspan x="1071.9">7</tspan><tspan x="1083.5">8</tspan><tspan x="1095.1">9</tspan><tspan x="1106.7">10</tspan><tspan x="1118.3">11</tspan><tspan x="1129.9">12</tspan><tspan x="1141.5">13</tspan><tspan x="1153.1">14</tspan><tspan x="1164.7">15</tspan><tspan x="1176.3">16</tspan><tspan x="1187.9">17</tspan><tspan x="1199.5">18</tspan><tspan x="1211.1">19</tspan><tspan x="1222.7">20</tspan><tspan x="1234.3">21</tspan><tspan x="1245.9">22</tspan><tspan x="1257.5">23</tspan><tspan x="1269.1">24</tspan></text>
<text class="ttl" x="1035" y="91.5">Phy312 SR1</text>
</g>
<g id="chart-phy362">
<path class="bar" d="M93.6 1107.3v-5h1.4v5zM171 1107.3v-79.4h1.6v79.4zM172.6 1107.3v-146h1.6v146zM174.3 1107.3v-83.2h1.6v83.2zM176 1107.3v-19.2h1.6v19.2zM177.7 1107.3v-56.3h1.6v56.3zM289.5 1107.3v-5h1.4v5z"/>
<path class="ax" d="M55 955V1107.3H330M51.7 979.3h3.3M51.7 1043.3h3.3M51.7 1107.3h3.3M58.3 1107.3v3m11.64-3v3m11.64-3v3m11.64-3v3m11.64-3v3m11.64-3v3m11.64-3v3m11.64-3v3m11.64-3v3m11.64-3v3m11.64-3v3m11.64-3v3m11.64-3v3m11.64-3v3m11.64-3v3m11.64-3v3m11.64-3v3m11.64-3v3m11.64-3v3m11.64-3v3m11.64-3v3m11.64-3v3m11.64-3v3m11.64-3v3"/>
<text class="yl" x="49" y="982.5">2</text><text class="yl" x="49" y="1046.5">1</text><text class="yl" x="49" y="1110.5">0</text>
<text class="yt" transform="translate(41 1026.7) rotate(-90)">%abundance</text>
<text class="xl" y="1119"><tspan x="58.3">1</tspan><tspan x="69.9">2</tspan><tspan x="81.6">3</tspan><tspan x="93.2">4</tspan><tspan x="104.9">5</tspan><tspan x="116.5">6</tspan><tspan x="128.1">7</tspan><tspan x="139.8">8</tspan><tspan x="151.4">9</tspan><tspan x="163.1">10</tspan><tspan x="174.7">11</tspan><tspan x="186.4">12</tspan><tspan x="198">13</tspan><tspan x="209.6">14</tspan><tspan x="221.3">15</tspan><tspan x="232.9">16</tspan><tspan x="244.5">17</tspan><tspan x="256.2">18</tspan><tspan x="267.8">19</tspan><tspan x="279.5">20</tspan><tspan x="291.1">21</tspan><tspan x="302.7">22</tspan><tspan x="314.4">23</tspan><tspan x="326">24</tspan></text>
<text class="ttl" x="178.3" y="1005">Phy362 <tspan font-style="italic">Actinomyces</tspan> sp.</text>
</g>
<g id="chart-phy135">
<path class="bar" d="M1024.3 1117.3v-138.7h1.6v138.7zM1026 1117.3v-21.3h1.6v21.3zM1027.7 1117.3v-78.7h1.6v78.7zM1029.4 1117.3v-65.3h1.6v65.3zM1031.1 1117.3v-59.3h1.6v59.3zM1071 1117.3v-1.3h1.4v1.3zM1082.6 1117.3v-5.3h1.4v5.3zM1084.3 1117.3v-1.5h1.4v1.5zM1097.6 1117.3v-26h1.6v26zM1224.3 1117.3v-1.2h1.4v1.2z"/>
<path class="ax" d="M1001.7 957.3V1117.3H1275M998.4 984h3.3M998.4 1050.7h3.3M998.4 1117.3h3.3M1005.7 1117.3v3m11.61-3v3m11.61-3v3m11.61-3v3m11.61-3v3m11.61-3v3m11.61-3v3m11.61-3v3m11.61-3v3m11.61-3v3m11.61-3v3m11.61-3v3m11.61-3v3m11.61-3v3m11.61-3v3m11.61-3v3m11.61-3v3m11.61-3v3m11.61-3v3m11.61-3v3m11.61-3v3m11.61-3v3m11.61-3v3m11.61-3v3"/>
<text class="yl" x="997" y="987.2">10</text><text class="yl" x="997" y="1053.9">5</text><text class="yl" x="997" y="1120.5">0</text>
<text class="yt" transform="translate(978 1031.7) rotate(-90)">%abundance</text>
<text class="xl" y="1128.5"><tspan x="1005.7">1</tspan><tspan x="1017.3">2</tspan><tspan x="1028.9">3</tspan><tspan x="1040.5">4</tspan><tspan x="1052.1">5</tspan><tspan x="1063.8">6</tspan><tspan x="1075.4">7</tspan><tspan x="1087">8</tspan><tspan x="1098.6">9</tspan><tspan x="1110.2">10</tspan><tspan x="1121.8">11</tspan><tspan x="1133.4">12</tspan><tspan x="1145">13</tspan><tspan x="1156.6">14</tspan><tspan x="1168.2">15</tspan><tspan x="1179.9">16</tspan><tspan x="1191.5">17</tspan><tspan x="1203.1">18</tspan><tspan x="1214.7">19</tspan><tspan x="1226.3">20</tspan><tspan x="1237.9">21</tspan><tspan x="1249.5">22</tspan><tspan x="1261.1">23</tspan><tspan x="1272.7">24</tspan></text>
<text class="ttl" x="1084" y="1055">Phy135 <tspan font-style="italic">Actinomyces</tspan> sp.</text>
</g>
</svg>
